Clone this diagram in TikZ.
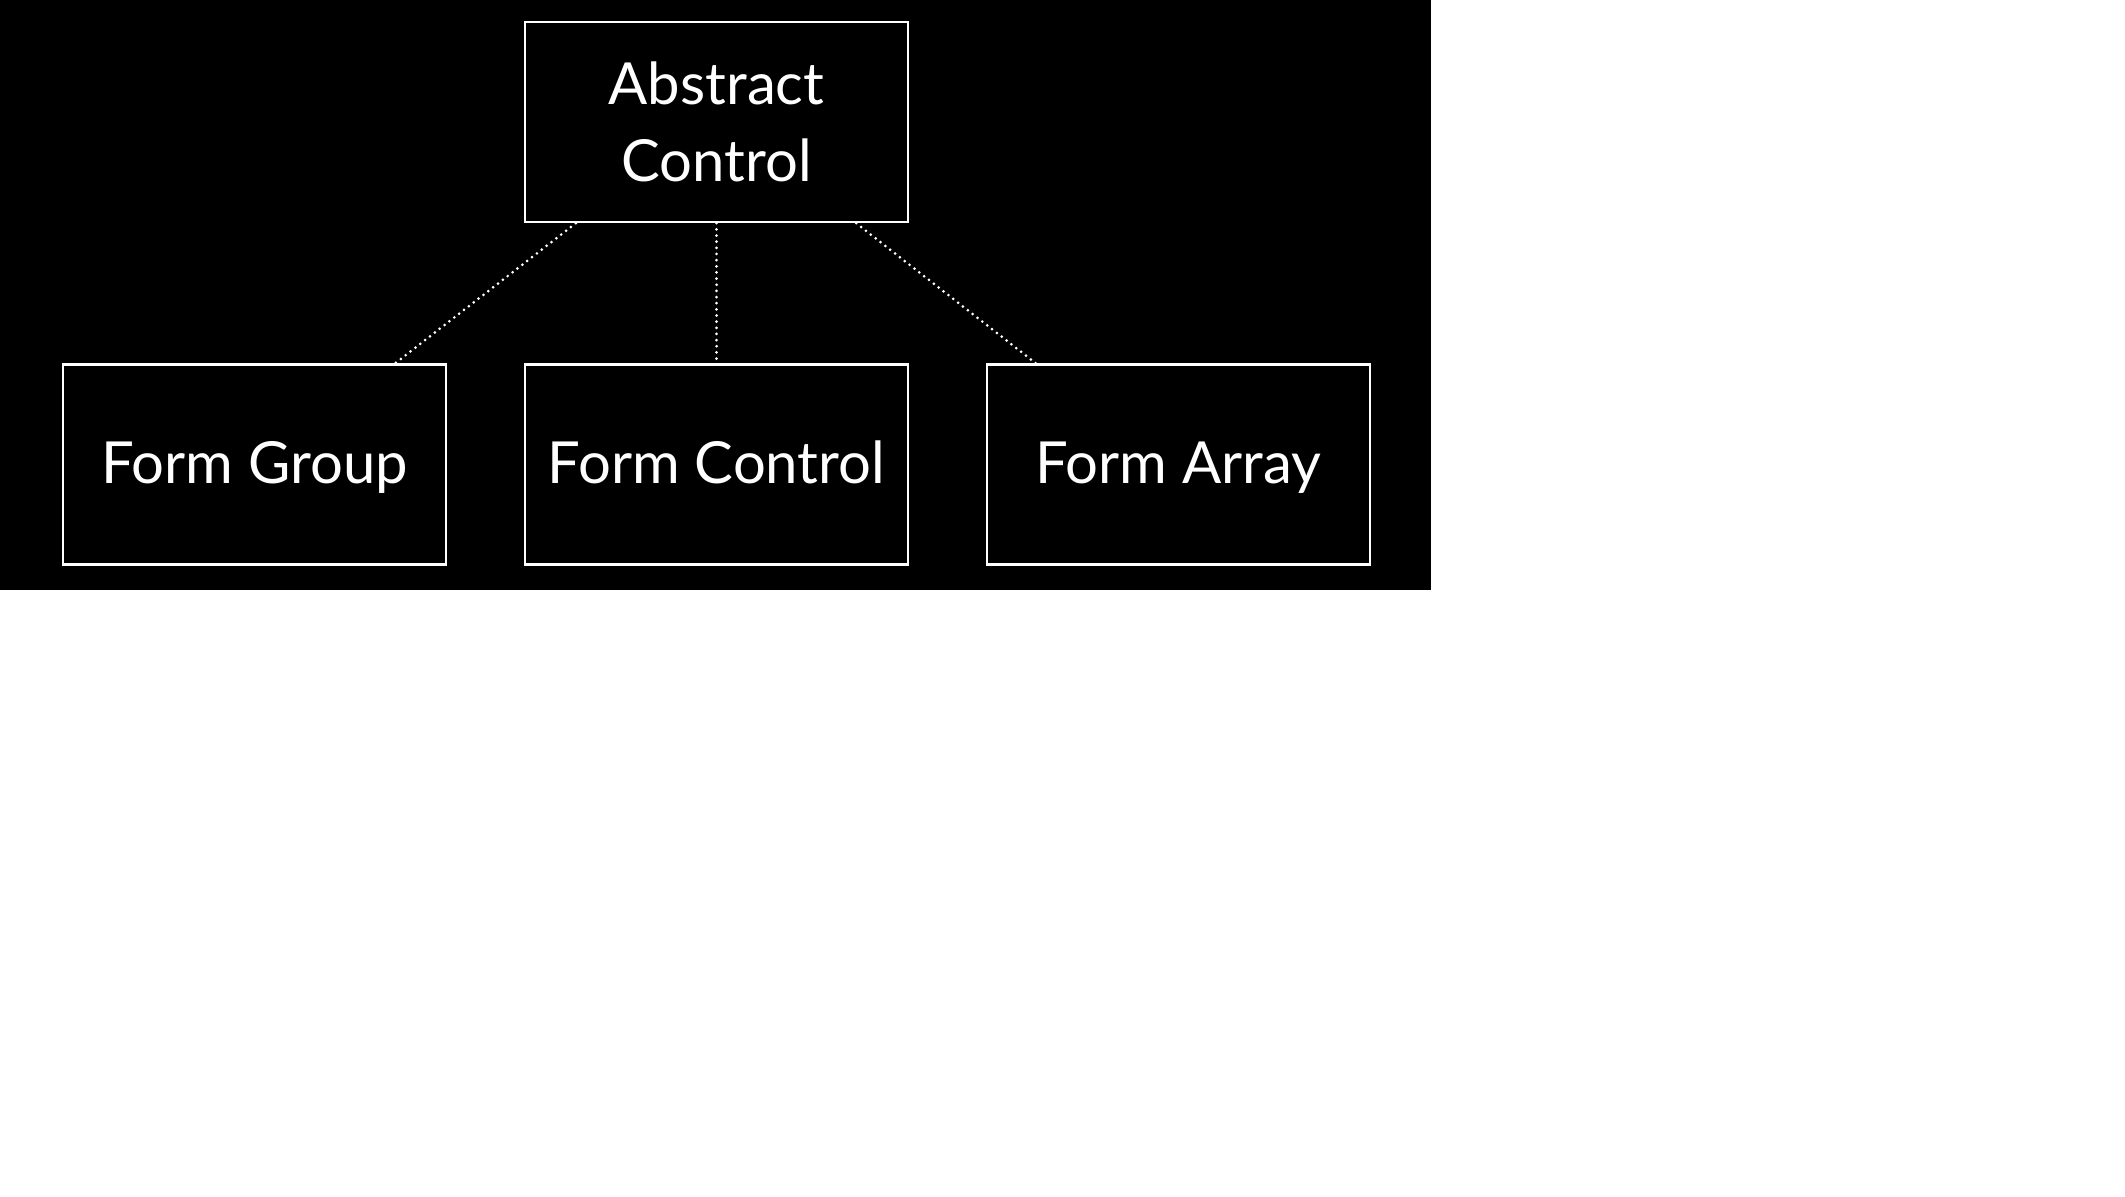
\documentclass[tikz,border=0pt]{standalone}
\usepackage{fontspec}
\setmainfont{Lato}
\usetikzlibrary{positioning}

\begin{document}
\begin{tikzpicture}[
    node distance=2.8cm and 1.53cm,
    classbox/.style={draw=white, line width=1.4pt, minimum width=7.66cm, minimum height=4cm, align=center, text=white, font=\fontsize{33}{43.8}\selectfont},
    leafbox/.style={classbox, text height=1.0cm, text depth=0.24cm},
    link/.style={draw=white, line width=1.7pt, line cap=round, dash pattern=on 0pt off 3.5pt}
]
\useasboundingbox (0,0) rectangle (42.5,-23.92);
\fill[black] (0,0) rectangle (28.62,-11.8);

% parent class
\node[classbox] (abs) at (14.33,-2.44) {Abstract\\Control};

% subclasses
\node[leafbox, below=of abs] (ctl) {Form Control};
\node[leafbox, left=of ctl] (grp) {Form Group};
\node[leafbox, right=of ctl] (arr) {Form Array};

% links
\draw[link] ([xshift=1.04cm]abs.south west) -- ([xshift=-1.04cm]grp.north east);
\draw[link] (abs.south) -- (ctl.north);
\draw[link] ([xshift=-1.06cm]abs.south east) -- ([xshift=1.0cm]arr.north west);

\end{tikzpicture}
\end{document}
